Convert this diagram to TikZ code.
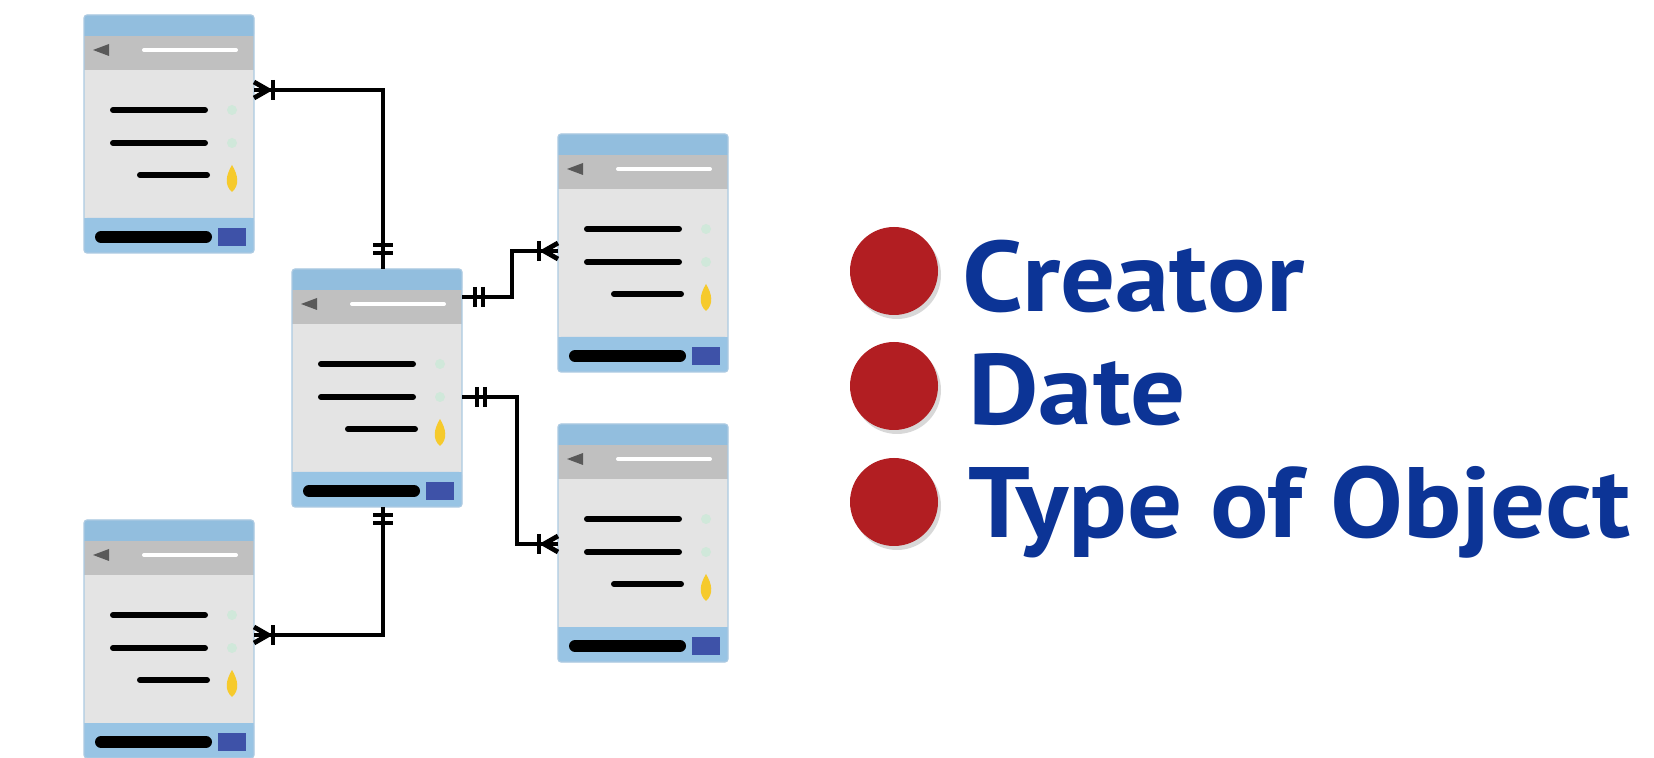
\documentclass[tikz,border=0pt]{standalone}
\usepackage{fontspec}
\setmainfont{PT Sans}
\usetikzlibrary{shadows}
\definecolor{hdrblue}{RGB}{146,190,222}
\definecolor{bargray}{RGB}{192,192,192}
\definecolor{bodygray}{RGB}{228,228,228}
\definecolor{ftblue}{RGB}{152,196,228}
\definecolor{sqblue}{RGB}{62,82,168}
\definecolor{edgeblue}{RGB}{172,202,226}
\definecolor{dotgreen}{RGB}{208,232,218}
\definecolor{keyyellow}{RGB}{246,202,44}
\definecolor{txtblue}{RGB}{12,52,150}
\definecolor{dotred}{RGB}{178,30,34}
\tikzset{
  conn/.style={line width=2.4pt, black},
  tablenode/.style={anchor=north west, minimum width=85pt, minimum height=119pt, inner sep=0pt, outer sep=0pt},
  bar/.style={line width=3pt, line cap=round, black},
  bullet/.style={circle, fill=dotred, minimum size=44pt, inner sep=0pt, drop shadow={opacity=0.3, shadow xshift=1.5pt, shadow yshift=-2pt}},
  label/.style={anchor=base west, text=txtblue, font=\bfseries\fontsize{50}{56}\selectfont, inner sep=0pt, xscale=1.09}
}
% table: #1 name, #2 x, #3 y (top-left, px)
\newcommand\ertable[3]{%
  \node[tablenode] (#1) at (#2,#3) {};
  \begin{scope}[shift={(#2,#3)}]
    \fill[bodygray, rounded corners=1.5pt] (0,0) rectangle (170,238);
    \fill[hdrblue, rounded corners=1.5pt] (0,0) rectangle (170,22);
    \fill[hdrblue] (0,10) rectangle (170,21);
    \fill[bargray] (0,21) rectangle (170,55);
    \fill[black!65] (9,35) -- (25,29) -- (25,41) -- cycle;
    \draw[white, line width=2pt, line cap=round] (60,35) -- (152,35);
    \draw[bar] (29,95) -- (121,95);
    \draw[bar] (29,128) -- (121,128);
    \draw[bar] (56,160) -- (123,160);
    \fill[dotgreen] (148,95) circle (5);
    \fill[dotgreen] (148,128) circle (5);
    \fill[keyyellow] (148,150) .. controls (154,160) and (156,170) .. (148,177) .. controls (140,170) and (142,160) .. (148,150);
    \fill[ftblue, rounded corners=1.5pt] (0,203) rectangle (170,238);
    \fill[ftblue] (0,203) rectangle (170,215);
    \draw[black, line width=6pt, line cap=round] (17,222) -- (122,222);
    \fill[sqblue] (134,213) rectangle (162,231);
    \draw[edgeblue, line width=0.6pt, rounded corners=1.5pt] (0,0) rectangle (170,238);
  \end{scope}}
% crow's foot (many + one bar), entity edge at x=#1, y=#2, line leaving to the right (#3=1) or left (#3=-1)
\newcommand\crowfoot[3]{%
  \draw[conn] (#1,#2-8) -- (#1+#3*14,#2) -- (#1,#2+8);
  \draw[conn] (#1,#2) -- (#1+#3*14,#2);
  \draw[conn] (#1+#3*19,#2-10) -- (#1+#3*19,#2+10);}
% one-and-only-one bars on a horizontal line
\newcommand\onebarsH[2]{%
  \draw[conn] (#1,#2-10) -- (#1,#2+10);
  \draw[conn] (#1+8,#2-10) -- (#1+8,#2+10);}
% on a vertical line
\newcommand\onebarsV[2]{%
  \draw[conn] (#1-10,#2) -- (#1+10,#2);
  \draw[conn] (#1-10,#2+8) -- (#1+10,#2+8);}
\begin{document}
\begin{tikzpicture}[x=0.5pt, y=-0.5pt]
  \useasboundingbox (0,0) rectangle (1654,758);
  \fill[white] (0,0) rectangle (1654,758);

  \ertable{tA}{84}{15}
  \ertable{tC}{292}{269}
  \ertable{tRT}{558}{134}
  \ertable{tRB}{558}{424}
  \ertable{tBL}{84}{520}

  % connectors
  \draw[conn] (tA.east |- 0,90) -| (383,0 |- tC.north);
  \crowfoot{254}{90}{1}
  \onebarsV{383}{245}

  \draw[conn] (tC.east |- 0,297) -| (512,251) -- (tRT.west |- 0,251);
  \onebarsH{475}{297}
  \crowfoot{558}{251}{-1}

  \draw[conn] (tC.east |- 0,397) -| (517,544) -- (tRB.west |- 0,544);
  \onebarsH{477}{397}
  \crowfoot{558}{544}{-1}

  \draw[conn] (383,0 |- tC.south) |- (tBL.east |- 0,635);
  \onebarsV{383}{515}
  \crowfoot{254}{635}{1}

  % legend
  \node[bullet] (b1) at (894,271) {};
  \node[bullet] (b2) at (894,386) {};
  \node[bullet] (b3) at (894,502) {};
  \node[label] (l1) at (962,312) {Creator};
  \node[label] (l2) at (968,425) {Date};
  \node[label] (l3) at (968,538) {Type of Object};
\end{tikzpicture}
\end{document}
